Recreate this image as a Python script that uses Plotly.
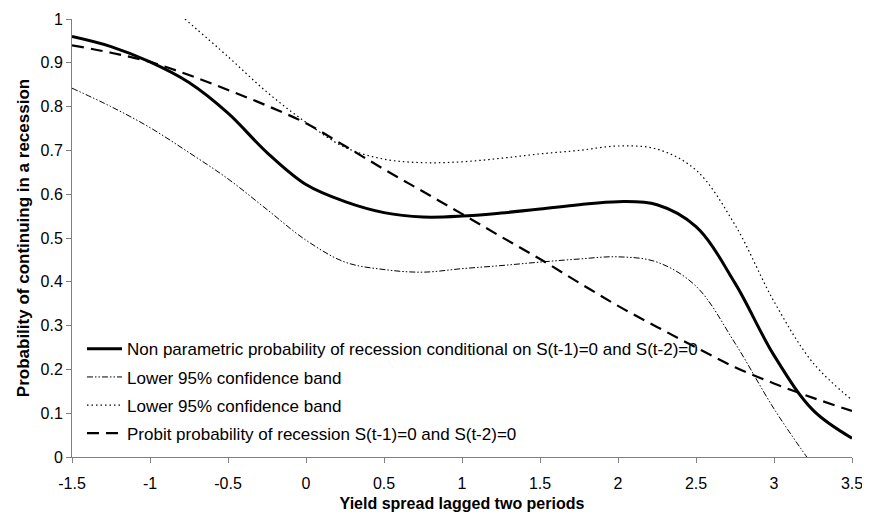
import plotly.graph_objects as go

x_main = [-1.5, -1.25, -1.0, -0.75, -0.5, -0.25, 0.0, 0.25, 0.5, 0.75, 1.0, 1.25,
          1.5, 1.75, 2.0, 2.25, 2.5, 2.75, 3.0, 3.25, 3.5]
nonparam = [0.96, 0.937, 0.902, 0.855, 0.785, 0.695, 0.622, 0.583, 0.558, 0.548, 0.550, 0.557,
            0.566, 0.576, 0.583, 0.576, 0.526, 0.397, 0.232, 0.107, 0.043]
probit = [0.94, 0.923, 0.902, 0.872, 0.838, 0.802, 0.762, 0.71, 0.657, 0.606, 0.555, 0.503,
          0.452, 0.398, 0.345, 0.297, 0.25, 0.205, 0.168, 0.135, 0.105]

x_upper = [-0.776, -0.5, -0.25, 0.0, 0.25, 0.5, 0.75, 1.0, 1.25, 1.5, 1.75, 2.0, 2.25,
           2.5, 2.75, 3.0, 3.25, 3.5]
upper_band = [1.0, 0.914, 0.833, 0.764, 0.707, 0.68, 0.672, 0.674, 0.682, 0.692, 0.70, 0.71,
              0.703, 0.655, 0.53, 0.355, 0.215, 0.13]

x_lower = [-1.5, -1.25, -1.0, -0.75, -0.5, -0.25, 0.0, 0.25, 0.5, 0.75, 1.0, 1.25,
           1.5, 1.75, 2.0, 2.25, 2.5, 2.75, 3.0, 3.21]
lower_band = [0.842, 0.80, 0.752, 0.695, 0.635, 0.565, 0.495, 0.445, 0.428, 0.422, 0.43, 0.437,
              0.445, 0.452, 0.457, 0.445, 0.39, 0.26, 0.11, 0.0]

x_ticks = [-1.5, -1, -0.5, 0, 0.5, 1, 1.5, 2, 2.5, 3, 3.5]
y_ticks = [0, 0.1, 0.2, 0.3, 0.4, 0.5, 0.6, 0.7, 0.8, 0.9, 1]

names = [
    "Non parametric probability of recession conditional on S(t-1)=0 and S(t-2)=0",
    "Lower 95% confidence band",
    "Lower 95% confidence band",
    "Probit probability of recession S(t-1)=0 and S(t-2)=0",
]

fig = go.Figure()
fig.add_trace(go.Scatter(x=x_main, y=nonparam, mode="lines", name=names[0], legendgroup="a",
                         line=dict(color="black", width=3, shape="spline")))
fig.add_trace(go.Scatter(x=x_lower, y=lower_band, mode="lines", name=names[1], legendgroup="b",
                         line=dict(color="black", width=1, shape="spline",
                                   dash="6px,2px,1.5px,2px,1.5px,2px")))
fig.add_trace(go.Scatter(x=x_upper, y=upper_band, mode="lines", name=names[2], legendgroup="c",
                         line=dict(color="black", width=1.2, shape="spline", dash="1.5px,3px")))
fig.add_trace(go.Scatter(x=x_main, y=probit, mode="lines", name=names[3], legendgroup="d",
                         line=dict(color="black", width=2.2, shape="spline", dash="12px,7px")))

font = "Liberation Sans, Arial, sans-serif"
# page body has an 8px margin, so the figure is drawn 8px smaller and offset
fig.update_layout(
    width=862, height=513,
    margin=dict(l=64, r=18, t=11, b=64),
    paper_bgcolor="white", plot_bgcolor="white",
    font=dict(family=font, size=16, color="black"),
    showlegend=True,
    legend=dict(x=0.0128, y=0.287, xanchor="left", yanchor="top",
                bgcolor="rgba(0,0,0,0)", font=dict(size=17, family=font),
                tracegroupgap=3, itemwidth=35),
    xaxis=dict(range=[-1.5, 3.5], tickvals=x_ticks, ticktext=[str(v) for v in x_ticks],
               showline=True, linecolor="#808080", linewidth=1, ticks="outside",
               ticklen=5, tickcolor="#808080", showgrid=False, zeroline=False,
               automargin=False, ticklabelstandoff=7,
               title=dict(text="<b>Yield spread lagged two periods</b>", font=dict(size=16),
                          standoff=6),
               tickfont=dict(size=16)),
    yaxis=dict(range=[0, 1], tickvals=y_ticks, ticktext=[f"{v:g}" for v in y_ticks],
               showline=True, linecolor="#808080", linewidth=1, ticks="outside",
               ticklen=5, tickcolor="#808080", showgrid=False, zeroline=False,
               automargin=False,
               title=dict(text="<b>Probability of continuing in a recession</b>",
                          font=dict(size=17), standoff=6),
               tickfont=dict(size=16)),
)

fig.write_html("out.html")
